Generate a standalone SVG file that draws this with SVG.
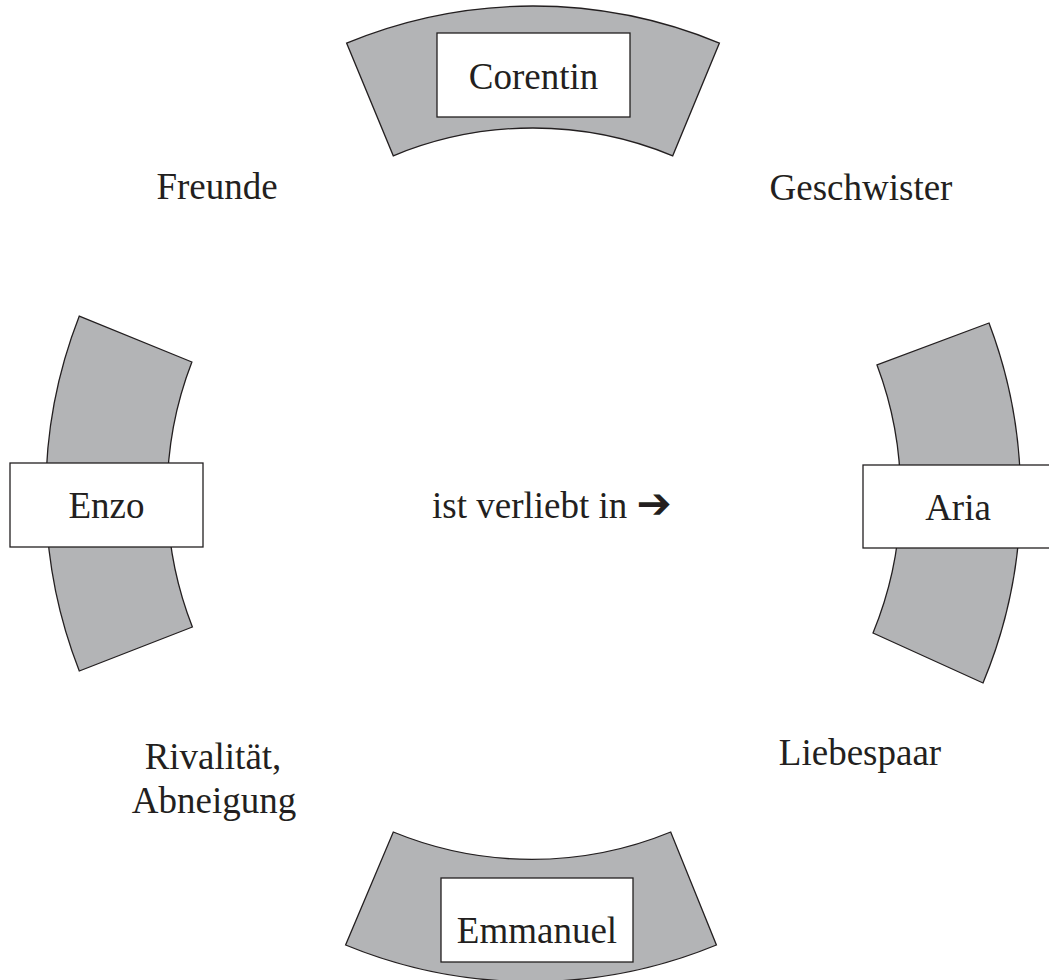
<svg xmlns="http://www.w3.org/2000/svg" width="1049" height="980" viewBox="0 0 1049 980">
<style>
.sec{fill:#b3b4b6;stroke:#231f20;stroke-width:1.3}
.box{fill:#fff;stroke:#231f20;stroke-width:1.3}
.t{font-family:"Liberation Serif",serif;font-size:37px;fill:#231f20;text-anchor:middle}
.arr{font-family:"DejaVu Sans",sans-serif;font-weight:bold}
</style>
<rect width="1049" height="980" fill="#fff"/>
<g id="connectors">
<path class="sec" d="M346.6 43.1 A487 487 0 0 1 719.4 43.1 L672.7 155.8 A365 365 0 0 0 393.3 155.8 Z"/>
<path class="sec" d="M393.3 832 A365 365 0 0 0 670.7 832 L716.4 945 A487 487 0 0 1 345.6 945 Z"/>
<path class="sec" d="M79.3 316.1 L191.9 362 A365 365 0 0 0 192.4 627 L79.3 671 A487 487 0 0 1 79.3 316.1 Z"/>
<path class="sec" d="M989 323 L877 365 A365 365 0 0 1 873 633 L983 683 A487 487 0 0 0 989 323 Z"/>
</g>
<g id="corentin">
<rect class="box" x="437" y="33" width="193" height="84"/>
<text class="t" x="533.5" y="89">Corentin</text>
</g>
<g id="enzo">
<rect class="box" x="10" y="463" width="193" height="84"/>
<text class="t" x="106.5" y="518">Enzo</text>
</g>
<g id="aria">
<rect class="box" x="863" y="465" width="193" height="83"/>
<text class="t" x="958" y="520">Aria</text>
</g>
<g id="emmanuel">
<rect class="box" x="441" y="878" width="192" height="84"/>
<text class="t" x="537" y="943">Emmanuel</text>
</g>
<g id="labels">
<text class="t" x="217" y="199">Freunde</text>
<text class="t" x="861" y="200">Geschwister</text>
<text class="t" x="213" y="769">Rivalität,</text>
<text class="t" x="214" y="813">Abneigung</text>
<text class="t" x="860" y="765">Liebespaar</text>
<text class="t" x="432" y="518" style="text-anchor:start">ist verliebt in <tspan class="arr" font-size="42">➔</tspan></text>
</g>
</svg>
